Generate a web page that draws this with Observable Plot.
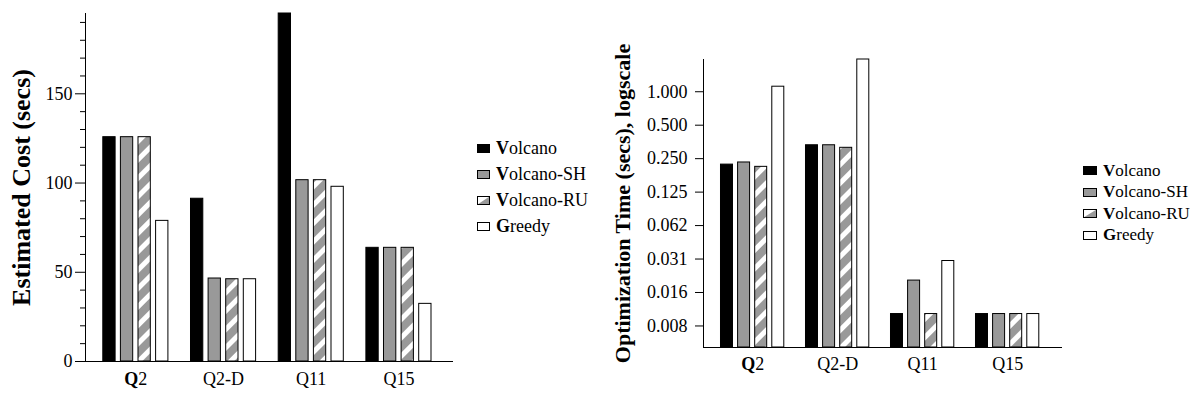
<!DOCTYPE html>
<html><head><meta charset="utf-8">
<script src="https://cdn.jsdelivr.net/npm/d3@7"></script>
<script src="https://cdn.jsdelivr.net/npm/@observablehq/plot@0.6"></script>
<style>
body{margin:0;background:#fff;font-family:"Liberation Serif","Times New Roman",serif;}
#wrap{position:relative;width:1193px;height:399px;overflow:hidden;background:#fff}
.chart{position:absolute;top:0}
.legend{position:absolute;color:#000;font-family:"Liberation Serif","Times New Roman",serif;white-space:nowrap}
.legend .row{display:flex;align-items:center}
.legend svg{margin-right:6px;flex:none}
</style></head><body><div id="wrap"></div>
<script>
// ---- data ----
const groups = ["Q2", "Q2-D", "Q11", "Q15"];
const series = ["Volcano", "Volcano-SH", "Volcano-RU", "Greedy"];
const costVolcano = [125.7, 91.2, 195, 63.7];
const costSH = [125.7, 46.5, 101.6, 63.7];
const costRU = [125.7, 46.1, 101.6, 63.7];
const costGreedy = [78.8, 46.1, 97.9, 32.3];
const timeVolcano = [0.221, 0.33, 0.01, 0.01];
const timeSH = [0.231, 0.33, 0.02, 0.01];
const timeRU = [0.211, 0.313, 0.01, 0.01];
const timeGreedy = [1.11, 1.95, 0.03, 0.01];
const costTicks = [0, 50, 100, 150];
const costMinorTicks = [10, 20, 30, 40, 60, 70, 80, 90, 110, 120, 130, 140, 160, 170, 180, 190];
const timeTicks = [0.0078125, 0.015625, 0.03125, 0.0625, 0.125, 0.25, 0.5, 1];
const timeTickLabels = ["0.008", "0.016", "0.031", "0.062", "0.125", "0.250", "0.500", "1.000"];
const costTitle = "Estimated Cost (secs)";
const timeTitle = "Optimization Time (secs), logscale";

const costSeries = [costVolcano, costSH, costRU, costGreedy];
const timeSeries = [timeVolcano, timeSH, timeRU, timeGreedy];

function rows(arrays, i) {
  return groups.map((g, j) => ({group: g, series: series[i], value: arrays[i][j]}));
}
function fills(id) { return ["#000", "#999", `url(#${id})`, "#fff"]; }

function addHatch(svg, id) {
  const ns = "http://www.w3.org/2000/svg";
  const defs = document.createElementNS(ns, "defs");
  defs.innerHTML = `<pattern id="${id}" patternUnits="userSpaceOnUse" width="13" height="13" patternTransform="rotate(45)">
    <rect width="13" height="13" fill="#999"/><rect x="0" width="5" height="13" fill="#fff"/></pattern>`;
  svg.insertBefore(defs, svg.firstChild);
}
function boldQ(svg) {
  const ns = "http://www.w3.org/2000/svg";
  for (const t of svg.querySelectorAll("text")) {
    if (t.textContent === "Q2") {
      t.textContent = "";
      const a = document.createElementNS(ns, "tspan"); a.setAttribute("font-weight", "bold"); a.textContent = "Q";
      const b = document.createElementNS(ns, "tspan"); b.textContent = "2";
      t.appendChild(a); t.appendChild(b);
    }
  }
}

const wrap = document.getElementById("wrap");
const styleBase = {fontFamily: "'Liberation Serif', 'Times New Roman', serif", fontSize: "18px", background: "transparent", color: "#000", overflow: "visible"};

// ---- left chart ----
{
  const bw = 66, step = 17.6, barW = 12.3;
  const bars = series.map((s, i) => Plot.barY(rows(costSeries, i), {
    x: "group", y: "value", fill: "series", stroke: "#000", strokeWidth: 1,
    insetLeft: i * step + 0.5, insetRight: bw - i * step - barW - 0.5
  }));
  const svg = Plot.plot({
    width: 470, height: 399, marginLeft: 85, marginRight: 17, marginTop: 13, marginBottom: 38,
    style: styleBase,
    x: {domain: groups, paddingInner: 0.2474, paddingOuter: 0.2218, align: 0.4447, round: false},
    y: {domain: [0, 195]},
    color: {type: "ordinal", domain: series, range: fills("hatchL")},
    marks: [
      ...bars,
      Plot.axisX({tickSize: 0, tickPadding: 11, label: null, fontSize: 18}),
      Plot.axisY({ticks: costTicks, tickSize: 10, tickPadding: 3, label: null, fontSize: 18, tickFormat: d => String(d)}),
      Plot.axisY({ticks: costMinorTicks, tickSize: 5, tickFormat: () => "", label: null}),
      Plot.ruleY([0]),
      Plot.frame({anchor: "left"}),
      Plot.text([costTitle], {text: d => d, frameAnchor: "left", textAnchor: "middle", lineAnchor: "middle", rotate: -90, dx: -64, fontWeight: "bold", fontSize: 26})
    ]
  });
  addHatch(svg, "hatchL");
  boldQ(svg);
  svg.classList.add("chart");
  svg.style.left = "0px";
  wrap.appendChild(svg);
}

// ---- right chart ----
{
  const bw = 64.3, step = 17.1, barW = 12;
  const yMin = 0.005;
  const labelMap = new Map(timeTicks.map((t, i) => [t, timeTickLabels[i]]));
  const bars = series.map((s, i) => Plot.barY(rows(timeSeries, i), {
    x: "group", y1: () => yMin, y2: "value", fill: "series", stroke: "#000", strokeWidth: 1,
    insetLeft: i * step + 0.5, insetRight: bw - i * step - barW - 0.5
  }));
  const svg = Plot.plot({
    width: 510, height: 399, marginLeft: 143, marginRight: 8, marginTop: 59, marginBottom: 52,
    style: styleBase,
    x: {domain: groups, paddingInner: 0.2435, paddingOuter: 0.2335, align: 0.428, round: false},
    y: {type: "log", base: 2, domain: [yMin, 1.95]},
    color: {type: "ordinal", domain: series, range: fills("hatchR")},
    marks: [
      ...bars,
      Plot.axisX({tickSize: 0, tickPadding: 10, label: null, fontSize: 18}),
      Plot.axisY({ticks: timeTicks, tickSize: 8, tickPadding: 8, label: null, fontSize: 18, tickFormat: d => labelMap.get(d)}),
      Plot.ruleY([yMin]),
      Plot.frame({anchor: "left"}),
      Plot.text([timeTitle], {text: d => d, frameAnchor: "left", textAnchor: "middle", lineAnchor: "middle", rotate: -90, dx: -81, fontWeight: "bold", fontSize: 22})
    ]
  });
  addHatch(svg, "hatchR");
  boldQ(svg);
  svg.classList.add("chart");
  svg.style.left = "560px";
  wrap.appendChild(svg);
}

// ---- legends ----
function swatch(i, w, h) {
  const fill = ["#000", "#999", "#fff", "#fff"][i];
  const tri = i === 2 ? `<polygon points="${w - 0.5},0.5 ${w - 0.5},${h - 0.5} 0.5,${h - 0.5}" fill="#999"/>` : "";
  return `<svg width="${w}" height="${h}"><rect x="0.5" y="0.5" width="${w - 1}" height="${h - 1}" fill="${fill}" stroke="none"/>${tri}<rect x="0.5" y="0.5" width="${w - 1}" height="${h - 1}" fill="none" stroke="#000"/></svg>`;
}
function legend(left, top, rowH, fontSize, w, h) {
  const div = document.createElement("div");
  div.className = "legend";
  div.style.left = left + "px";
  div.style.top = top + "px";
  div.style.fontSize = fontSize + "px";
  div.innerHTML = series.map((s, i) =>
    `<div class="row" style="height:${rowH}px">${swatch(i, w, h)}<span><b>${s[0]}</b>${s.slice(1)}</span></div>`).join("");
  wrap.appendChild(div);
}
legend(477, 135, 26, 18, 13, 9);
legend(1083, 160, 21.5, 17, 14, 9);
</script></body></html>
